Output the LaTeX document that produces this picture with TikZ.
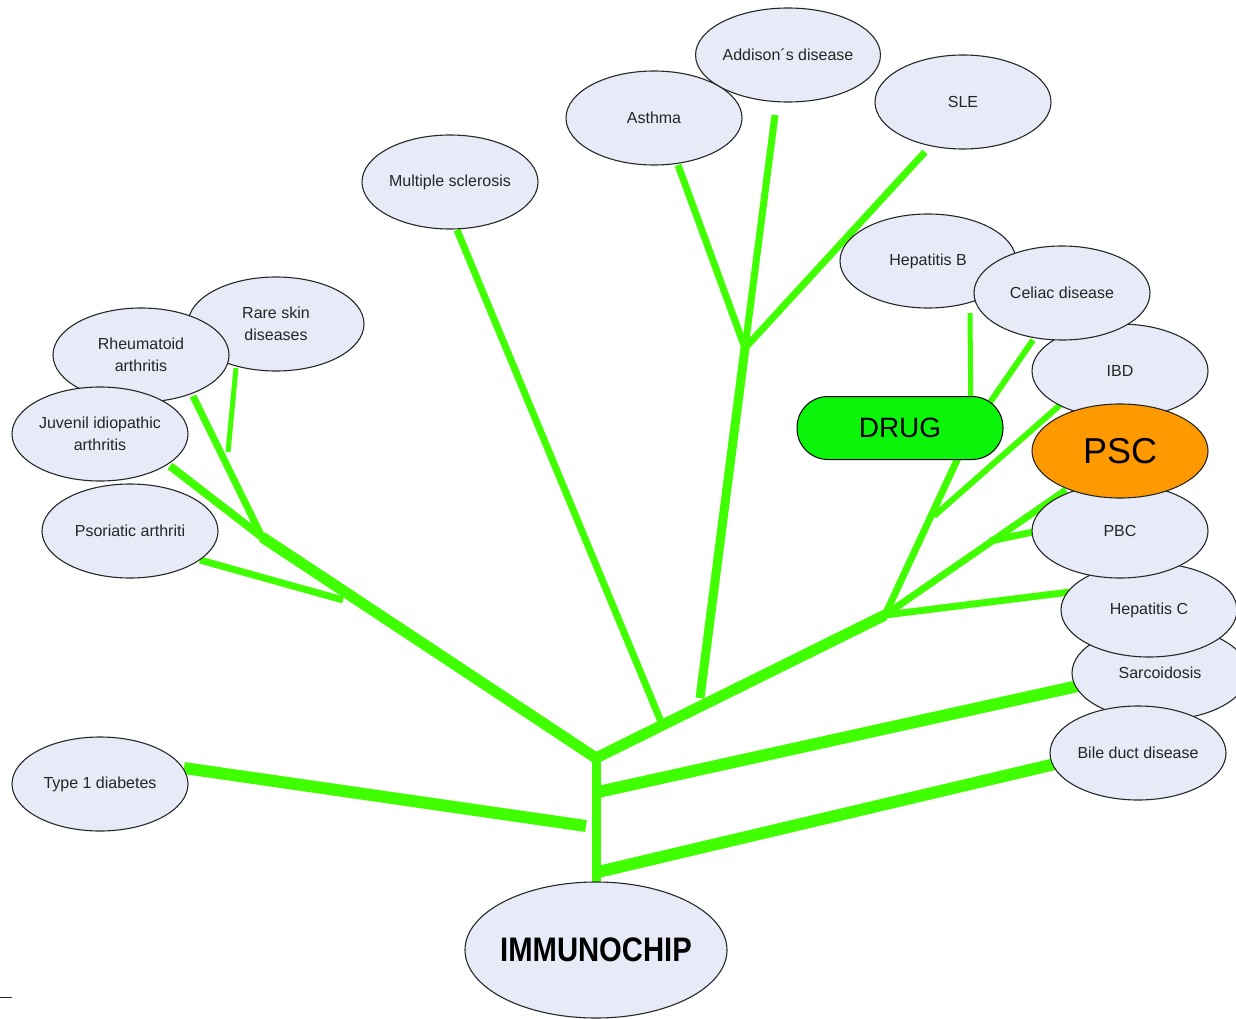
\documentclass[tikz,border=0pt]{standalone}
\usepackage{fontspec}
\setmainfont{Liberation Sans}
\usetikzlibrary{shapes.geometric}

\definecolor{branch}{RGB}{64,255,0}
\definecolor{bubble}{RGB}{230,235,247}
\definecolor{rim}{RGB}{40,40,40}
\definecolor{ink}{RGB}{38,38,38}
\definecolor{pscfill}{RGB}{255,153,0}
\definecolor{drugfill}{RGB}{10,245,10}

\begin{document}
\begin{tikzpicture}[x=1pt,y=-1pt,
  disease/.style={ellipse, draw=rim, line width=1.1pt, fill=bubble,
    minimum width=176pt, minimum height=94pt, inner sep=0pt,
    align=center, text=ink, font=\fontsize{16}{22}\selectfont},
  stem/.style={draw=branch, line width=#1pt},
]
\useasboundingbox (0,0) rectangle (1236,1019);

% ---------- junctions and free ends of the tree ----------
\coordinate (fork)      at (596,758);
\coordinate (root)      at (596,884);
\coordinate (jleft)     at (262,537);
\coordinate (jright)    at (885,615);
\coordinate (psorend)   at (343,600);
\coordinate (psortip)   at (200,560);
\coordinate (rheumtip)  at (193,396);
\coordinate (juvtip)    at (170,466);
\coordinate (raretop)   at (236,368);
\coordinate (rarebot)   at (228,452);
\coordinate (msend)     at (662,724);
\coordinate (mstip)     at (457,230);
\coordinate (aabase)    at (700,698);
\coordinate (aatop)     at (745,348);
\coordinate (asthmatip) at (678,165);
\coordinate (addtip)    at (775,115);
\coordinate (sletip)    at (925,152);
\coordinate (t1tip)     at (184,768);
\coordinate (t1end)     at (586,826);
\coordinate (sarcstart) at (598,792);
\coordinate (sarctip)   at (1078,686);
\coordinate (bilestart) at (598,872);
\coordinate (biletip)   at (1055,764);
\coordinate (hepctip)   at (1070,592);
\coordinate (psctip)    at (1066,490);
\coordinate (pbctip)    at (1033,532);
\coordinate (pbcend)    at (990,541);
\coordinate (uptop)     at (971,430);
\coordinate (hepbtip)   at (970,313);
\coordinate (celtip)    at (1033,340);
\coordinate (ibdtip)    at (1060,405);
\coordinate (ibdend)    at (934,516);

% ---------- branches ----------
\draw[stem=12] (t1tip) -- (t1end);
\draw[stem=12] (sarcstart) -- (sarctip);
\draw[stem=12] (bilestart) -- (biletip);
\draw[stem=9]  (root) -- (fork);
\draw[stem=11] (fork) -- (jleft);
\draw[stem=11] (fork) -- (jright);
\draw[stem=7]  (psortip) -- (psorend);
\draw[stem=7]  (rheumtip) -- (jleft);
\draw[stem=8]  (juvtip) -- (jleft);
\draw[stem=5]  (raretop) -- (rarebot);
\draw[stem=7]  (mstip) -- (msend);
\draw[stem=9]  (aabase) -- (aatop);
\draw[stem=7]  (aatop) -- (asthmatip);
\draw[stem=7]  (aatop) -- (addtip);
\draw[stem=7]  (aatop) -- (sletip);
\draw[stem=7]  (jright) -- (hepctip);
\draw[stem=7]  (jright) -- (psctip);
\draw[stem=7]  (pbctip) -- (pbcend);
\draw[stem=7]  (jright) -- (uptop);
\draw[stem=6]  (ibdtip) -- (ibdend);
\draw[stem=5]  (hepbtip) -- (uptop);
\draw[stem=6]  (celtip) -- (uptop);

% ---------- disease bubbles ----------
\node[disease] (rare)   at (276,324) {Rare skin\\diseases};
\node[disease] (rheum)  at (141,355) {Rheumatoid\\arthritis};
\node[disease] (juv)    at (100,434) {Juvenil idiopathic\\arthritis};
\node[disease] (psor)   at (130,531) {Psoriatic arthriti};
\node[disease] (t1d)    at (100,784) {Type 1 diabetes};
\node[disease] (ms)     at (450,182) {Multiple sclerosis};
\node[disease] (add)    at (788,55)  {Addison´s disease};
\node[disease] (asthma) at (654,118) {Asthma};
\node[disease] (sle)    at (963,102) {SLE};
\node[disease] (sarc)   at (1160,673) {Sarcoidosis};
\node[disease] (bile)   at (1138,753) {Bile duct disease};
\node[disease] (hepc)   at (1149,610) {Hepatitis C};
\node[disease] (pbc)    at (1120,531) {PBC};
\node[disease] (ibd)    at (1120,371) {IBD};
\node[disease, fill=pscfill, text=black, font=\fontsize{36}{40}\selectfont]
               (psc)    at (1120,451) {PSC};
\node[disease] (hepb)   at (928,261) {Hepatitis B};
\node[disease] (celiac) at (1062,293) {Celiac disease};

% root bubble; its title is set as a centred label so the ellipse keeps its size
\node[disease, minimum width=262pt, minimum height=136pt,
      label={[text=black, font=\fontsize{34}{40}\selectfont\bfseries]center:{\scalebox{0.86}[1]{IMMUNOCHIP}}}]
               (chip)   at (596,950) {};

% ---------- drug marker ----------
\node[draw=black, line width=1pt, fill=drugfill, rounded corners=31pt,
      minimum width=206pt, minimum height=63pt, inner sep=0pt,
      font=\fontsize{28}{32}\selectfont] (drug) at (900,428) {DRUG};

% small mark at the lower left edge
\draw[line width=1pt, rim] (0,997) -- (12,997);
\end{tikzpicture}
\end{document}
